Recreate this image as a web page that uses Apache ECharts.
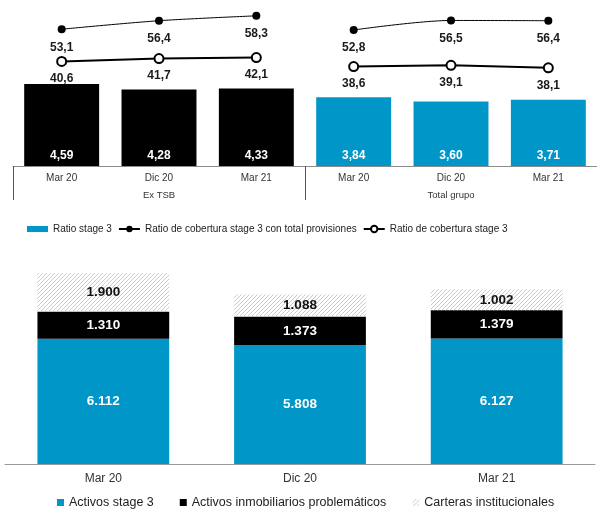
<!DOCTYPE html>
<html>
<head>
<meta charset="utf-8">
<script src="https://cdn.jsdelivr.net/npm/echarts@6/dist/echarts.min.js"></script>
<style>
  html, body { margin: 0; padding: 0; background: #fff; }
  #chart { width: 597px; height: 509px; }
</style>
</head>
<body>
<div id="chart"></div>
<script>
// Coverage ratios (top panel)
const ratioCats = ['Mar 20', 'Dic 20', 'Mar 21', 'Mar 20', 'Dic 20', 'Mar 21'];
const groupLabels = ['Ex TSB', 'Total grupo'];
const ratioStage3 = [4.59, 4.28, 4.33, 3.84, 3.60, 3.71];
const coberturaTotalExTSB = [53.1, 56.4, 58.3];
const coberturaTotalGrupo = [52.8, 56.5, 56.4];
const coberturaExTSB = [40.6, 41.7, 42.1];
const coberturaGrupo = [38.6, 39.1, 38.1];

// Problem assets (bottom panel)
const assetCats = ['Mar 20', 'Dic 20', 'Mar 21'];
const activosStage3 = [6112, 5808, 6127];
const activosInmobiliarios = [1310, 1373, 1379];
const carterasInstitucionales = [1900, 1088, 1002];

const BLUE = '#0096C8';
const BLACK = '#000000';
const FONT = 'Liberation Sans, Arial, sans-serif';

const fmtComma = (v, d) => v.toFixed(d).replace('.', ',');
const fmtThousands = v => String(v).replace(/\B(?=(\d{3})+(?!\d))/g, '.');

// Diagonal hatch tile for the institutional portfolios
function hatchTile() {
  const c = document.createElement('canvas');
  c.width = 4; c.height = 4;
  const g = c.getContext('2d');
  g.strokeStyle = '#d6c9b9';
  g.lineWidth = 1;
  g.beginPath();
  g.moveTo(-1, 5); g.lineTo(5, -1);
  g.moveTo(-1, 1); g.lineTo(1, -1);
  g.moveTo(3, 5); g.lineTo(5, 3);
  g.stroke();
  return c;
}
const hatch = { image: hatchTile(), repeat: 'repeat' };

const firstGroup = arr => arr.concat(['-', '-', '-']);
const secondGroup = arr => ['-', '-', '-'].concat(arr);

const lineLabel = (dist) => ({
  show: true, position: 'bottom', distance: dist,
  fontFamily: FONT, fontSize: 12, fontWeight: 'bold', color: '#1a1a1a',
  formatter: p => fmtComma(p.value, 1)
});

function totalLine(data) {
  return {
    name: 'Ratio de cobertura stage 3 con total provisiones',
    type: 'line', xAxisIndex: 0, yAxisIndex: 1,
    data: data, smooth: 0.3,
    symbol: 'circle', symbolSize: 8,
    itemStyle: { color: BLACK },
    lineStyle: { color: BLACK, width: 1 },
    label: lineLabel(8), z: 5
  };
}
function coverLine(data) {
  return {
    name: 'Ratio de cobertura stage 3',
    type: 'line', xAxisIndex: 0, yAxisIndex: 1,
    data: data,
    symbol: 'emptyCircle', symbolSize: 9,
    itemStyle: { color: BLACK, borderColor: BLACK, borderWidth: 2 },
    lineStyle: { color: BLACK, width: 2 },
    label: lineLabel(6), z: 5
  };
}

const stackLabel = (color) => ({
  show: true, position: 'inside',
  fontFamily: FONT, fontSize: 13.5, fontWeight: 'bold', color: color,
  formatter: p => fmtThousands(p.value)
});

const option = {
  animation: false,
  backgroundColor: '#fff',
  textStyle: { fontFamily: FONT },
  grid: [
    { left: 13, right: -10, top: 5, bottom: 343 },
    { left: 5, right: 2, top: 259, bottom: 45 }
  ],
  xAxis: [
    {
      type: 'category', gridIndex: 0, data: ratioCats,
      axisLine: { lineStyle: { color: '#8c8c8c', width: 1 } },
      axisTick: { show: false },
      axisLabel: { interval: 0, margin: 7, fontSize: 10, color: '#333', fontFamily: FONT }
    },
    {
      type: 'category', gridIndex: 0, data: groupLabels, position: 'bottom',
      axisLine: { show: false },
      axisTick: { show: true, interval: 0, length: 34, lineStyle: { color: '#555', width: 1 } },
      axisLabel: { interval: 0, margin: 24, fontSize: 9.5, color: '#333', fontFamily: FONT }
    },
    {
      type: 'category', gridIndex: 1, data: assetCats,
      axisLine: { lineStyle: { color: '#9a9a9a', width: 1 } },
      axisTick: { show: false },
      axisLabel: { interval: 0, margin: 9, fontSize: 12, color: '#333', fontFamily: FONT }
    }
  ],
  yAxis: [
    { type: 'value', gridIndex: 0, min: 0, max: 9, show: false },
    { type: 'value', gridIndex: 0, min: 0, max: 62.5, show: false },
    { type: 'value', gridIndex: 1, min: 0, max: 10000, show: false }
  ],
  legend: [
    {
      data: [
        { name: 'Ratio stage 3', icon: 'path://M0,0H21V6H0Z' },
        'Ratio de cobertura stage 3 con total provisiones',
        'Ratio de cobertura stage 3'
      ],
      left: 22, top: 219, itemWidth: 21, itemHeight: 8, itemGap: 6,
      textStyle: { fontSize: 10, color: '#222', fontFamily: FONT }
    },
    {
      data: ['Activos stage 3', 'Activos inmobiliarios problemáticos', 'Carteras institucionales'],
      left: 52, top: 491, itemWidth: 7, itemHeight: 7, itemGap: 26, icon: 'rect',
      textStyle: { fontSize: 12.5, color: '#222', fontFamily: FONT }
    }
  ],
  series: [
    {
      name: 'Ratio stage 3', type: 'bar', xAxisIndex: 0, yAxisIndex: 0,
      barWidth: '77%',
      itemStyle: { color: BLUE },
      data: ratioStage3.map((v, i) => ({ value: v, itemStyle: { color: i < 3 ? BLACK : BLUE } })),
      label: {
        show: true, position: 'insideBottom', distance: 4,
        fontFamily: FONT, fontSize: 12, fontWeight: 'bold', color: '#fff',
        formatter: p => fmtComma(p.value, 2)
      }
    },
    totalLine(firstGroup(coberturaTotalExTSB)),
    totalLine(secondGroup(coberturaTotalGrupo)),
    coverLine(firstGroup(coberturaExTSB)),
    coverLine(secondGroup(coberturaGrupo)),
    {
      name: 'Activos stage 3', type: 'bar', stack: 'activos',
      xAxisIndex: 2, yAxisIndex: 2, barWidth: '67%',
      itemStyle: { color: BLUE }, data: activosStage3, label: stackLabel('#fff')
    },
    {
      name: 'Activos inmobiliarios problemáticos', type: 'bar', stack: 'activos',
      xAxisIndex: 2, yAxisIndex: 2, barWidth: '67%',
      itemStyle: { color: BLACK }, data: activosInmobiliarios, label: stackLabel('#fff')
    },
    {
      name: 'Carteras institucionales', type: 'bar', stack: 'activos',
      xAxisIndex: 2, yAxisIndex: 2, barWidth: '67%',
      itemStyle: { color: hatch }, data: carterasInstitucionales, label: stackLabel('#111')
    }
  ]
};

const chart = echarts.init(document.getElementById('chart'), null, { renderer: 'canvas' });
chart.setOption(option);
</script>
</body>
</html>
